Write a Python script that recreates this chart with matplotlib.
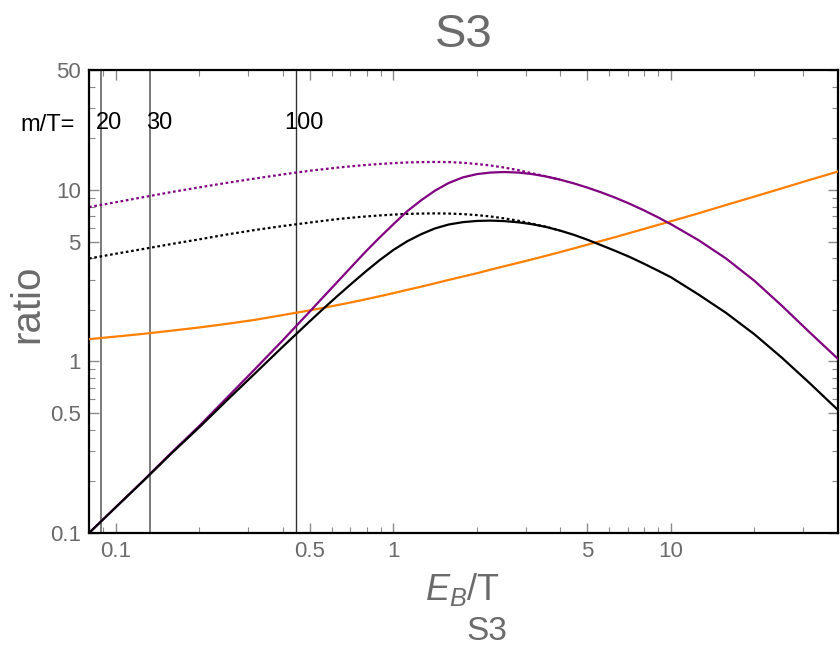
import numpy as np
import matplotlib
matplotlib.use("Agg")
import matplotlib.pyplot as plt
import matplotlib.transforms as mtransforms
from matplotlib.ticker import LogLocator, FixedLocator, FixedFormatter, NullFormatter

plt.rcParams["font.family"] = ["Liberation Sans", "DejaVu Sans"]
plt.rcParams["mathtext.fontset"] = "custom"
plt.rcParams["mathtext.rm"] = "Liberation Sans"
plt.rcParams["mathtext.it"] = "Liberation Sans:italic"

# ---- data ----
eb_over_t = [0.08, 0.1, 0.126, 0.158, 0.2, 0.251, 0.316, 0.398, 0.501, 0.562, 0.631,
             0.708, 0.794, 0.891, 1.0, 1.12, 1.26, 1.41, 1.58, 1.78, 2.0, 2.24, 2.51,
             2.82, 3.16, 3.55, 3.98, 4.47, 5.01, 5.62, 6.31, 7.08, 7.94, 8.91, 10.0,
             12.6, 15.8, 20.0, 25.1, 31.6, 40.0]

black_full = [0.1, 0.1416, 0.2023, 0.2897, 0.414, 0.593, 0.847, 1.213, 1.722, 2.046, 2.421,
              2.851, 3.342, 3.890, 4.467, 5.012, 5.521, 5.957, 6.281, 6.486, 6.592, 6.622,
              6.577, 6.471, 6.310, 6.081, 5.794, 5.470, 5.117, 4.753, 4.406, 4.074, 3.733,
              3.404, 3.097, 2.449, 1.919, 1.439, 1.052, 0.748, 0.521]
purple_full = [0.1, 0.1416, 0.2032, 0.2924, 0.4217, 0.6138, 0.8974, 1.321, 1.963, 2.399, 2.931,
               3.581, 4.365, 5.272, 6.310, 7.499, 8.710, 9.886, 10.96, 11.83, 12.36, 12.62,
               12.71, 12.62, 12.36, 11.97, 11.48, 10.91, 10.30, 9.661, 8.995, 8.318, 7.638,
               6.966, 6.310, 5.082, 3.981, 2.951, 2.113, 1.479, 1.035]
orange_curve = [1.349, 1.396, 1.449, 1.510, 1.578, 1.656, 1.746, 1.862, 1.986, 2.056, 2.133,
                2.213, 2.301, 2.399, 2.500, 2.612, 2.729, 2.851, 2.985, 3.126, 3.266, 3.428,
                3.589, 3.758, 3.936, 4.130, 4.335, 4.560, 4.797, 5.047, 5.309, 5.598, 5.902,
                6.223, 6.561, 7.311, 8.166, 9.141, 10.21, 11.43, 12.79]

# dotted approximations, low-E_B side only (first 27 grid points)
black_dotted = [3.981, 4.246, 4.529, 4.831, 5.152, 5.495, 5.834, 6.152, 6.457, 6.607, 6.761,
                6.887, 6.998, 7.096, 7.178, 7.244, 7.278, 7.295, 7.278, 7.228, 7.129, 6.998,
                6.823, 6.607, 6.353, 6.095, 5.794]
purple_dotted = [7.943, 8.472, 9.078, 9.705, 10.35, 10.99, 11.64, 12.30, 12.94, 13.21, 13.49,
                 13.74, 13.96, 14.16, 14.32, 14.45, 14.52, 14.55, 14.52, 14.39, 14.16, 13.87,
                 13.49, 13.03, 12.50, 11.99, 11.48]
eb_dotted = eb_over_t[:len(black_dotted)]

# mass ratios and where they sit on the E_B/T axis
mass_labels = ["20", "30", "100"]
mass_lines = [0.0885, 0.133, 0.445]

yticks = [0.1, 0.5, 1, 5, 10, 50]
ytick_labels = ["0.1", "0.5", "1", "5", "10", "50"]
xticks = [0.1, 0.5, 1, 5, 10]
xtick_labels = ["0.1", "0.5", "1", "5", "10"]

gray = "#6b6b6b"
purple = "#800080"
orange = "#FF8000"

# ---- figure ----
fig = plt.figure(figsize=(8.4, 6.48), dpi=100)
ax = fig.add_axes([0.106, 0.1775, 0.8916, 0.7145])
ax.set_xscale("log")
ax.set_yscale("log")
ax.set_xlim(0.08, 40)
ax.set_ylim(0.1, 50)

for xv, c, lw in zip(mass_lines, ["#7a7a7a", "#7a7a7a", "#333333"], [1.4, 1.4, 1.0]):
    ax.axvline(xv, color=c, lw=lw, zorder=1)

ax.plot(eb_dotted, purple_dotted, color=purple, lw=1.6, ls=(0, (1.2, 1.2)), zorder=2)
ax.plot(eb_dotted, black_dotted, color="black", lw=1.6, ls=(0, (1.2, 1.2)), zorder=2)
ax.plot(eb_over_t, orange_curve, color=orange, lw=1.6, zorder=3)
ax.plot(eb_over_t, purple_full, color=purple, lw=1.6, zorder=3)
ax.plot(eb_over_t, black_full, color="black", lw=1.6, zorder=3)

# ticks on every side, pointing in
ax.xaxis.set_major_locator(FixedLocator(xticks))
ax.xaxis.set_major_formatter(FixedFormatter(xtick_labels))
ax.xaxis.set_minor_locator(LogLocator(base=10, subs=np.arange(1, 10)))
ax.xaxis.set_minor_formatter(NullFormatter())
ax.yaxis.set_major_locator(FixedLocator(yticks))
ax.yaxis.set_major_formatter(FixedFormatter(ytick_labels))
ax.yaxis.set_minor_locator(LogLocator(base=10, subs=np.arange(1, 10)))
ax.yaxis.set_minor_formatter(NullFormatter())
ax.tick_params(which="both", direction="in", top=True, right=True, color="#8a8a8a",
               labelcolor=gray, labelsize=16, pad=6)
ax.tick_params(which="major", length=7, width=1.0)
ax.tick_params(which="minor", length=4, width=0.8)
for s in ax.spines.values():
    s.set_linewidth(1.6)
    s.set_color("black")

# titles and axis labels
fig.text(0.552, 1 - 47 / 648, "S3", color=gray, fontsize=34, ha="center", va="baseline")
fig.text(0.032, 0.531, "ratio", color=gray, fontsize=29, rotation=90, ha="center", va="center")
fig.text(0.551, 1 - 600 / 648, r"$E_B$/T", color=gray, fontsize=26, ha="center", va="baseline")
fig.text(0.580, 1 - 640 / 648, "S3", color=gray, fontsize=24, ha="center", va="baseline")

# m/T markers
fig.text(20 / 840, 1 - 125 / 648, "m/T=", fontsize=17, color="black", va="center")
for lab, xv, dx in zip(mass_labels, mass_lines, [-5, -4, -12]):
    tr = mtransforms.offset_copy(ax.transData, fig=fig, x=dx, y=0, units="dots")
    ax.text(xv, 24.5, lab, transform=tr, fontsize=17, color="black", ha="left", va="center")

fig.savefig("out.png", dpi=100)
